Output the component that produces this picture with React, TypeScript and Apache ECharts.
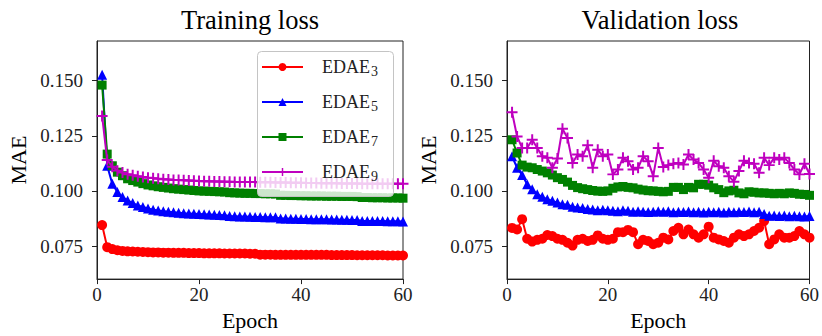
import React, { useEffect, useRef } from "react";
import * as echarts from "echarts";

const FONT = "Liberation Serif";

const epochs = [
  1, 2, 3, 4, 5, 6, 7, 8, 9, 10, 11, 12, 13, 14, 15, 16, 17, 18, 19, 20,
  21, 22, 23, 24, 25, 26, 27, 28, 29, 30, 31, 32, 33, 34, 35, 36, 37, 38, 39, 40,
  41, 42, 43, 44, 45, 46, 47, 48, 49, 50, 51, 52, 53, 54, 55, 56, 57, 58, 59, 60,
];

const seriesNames = ["EDAE3", "EDAE5", "EDAE7", "EDAE9"];
const yTicks = [0.075, 0.1, 0.125, 0.15];

// Training loss (MAE) per epoch
const trainEdae3 = [
  0.0845, 0.0745, 0.0736, 0.0731, 0.0728, 0.0726, 0.0725, 0.0724, 0.0723, 0.0722,
  0.0721, 0.0721, 0.072, 0.072, 0.0719, 0.0719, 0.0719, 0.0718, 0.0718, 0.0718,
  0.0717, 0.0717, 0.0717, 0.0717, 0.0716, 0.0716, 0.0716, 0.0716, 0.0716, 0.0715,
  0.0715, 0.0711, 0.0711, 0.0711, 0.071, 0.071, 0.071, 0.071, 0.071, 0.071,
  0.071, 0.071, 0.071, 0.071, 0.071, 0.0709, 0.0709, 0.0709, 0.0709, 0.0709,
  0.0708, 0.0708, 0.0708, 0.0708, 0.0708, 0.0708, 0.0707, 0.0707, 0.0707, 0.0707,
];
const trainEdae5 = [
  0.1527, 0.1114, 0.1032, 0.0995, 0.0972, 0.0957, 0.0945, 0.0934, 0.0927, 0.092,
  0.0915, 0.0911, 0.0908, 0.0905, 0.0903, 0.0901, 0.0899, 0.0897, 0.0896, 0.0895,
  0.0894, 0.0893, 0.0892, 0.0891, 0.089, 0.0886, 0.0885, 0.0884, 0.0884, 0.0883,
  0.0882, 0.0882, 0.0881, 0.088, 0.088, 0.0875, 0.0875, 0.0874, 0.0874, 0.0873,
  0.0873, 0.0872, 0.0872, 0.0871, 0.0871, 0.087, 0.087, 0.0869, 0.0869, 0.0868,
  0.0868, 0.0864, 0.0864, 0.0863, 0.0863, 0.0863, 0.0862, 0.0862, 0.0862, 0.0861,
];
const trainEdae7 = [
  0.148, 0.1167, 0.1114, 0.1085, 0.1069, 0.1055, 0.1047, 0.104, 0.1033, 0.1027,
  0.1023, 0.1019, 0.1016, 0.1013, 0.101, 0.1008, 0.1006, 0.1004, 0.1002, 0.1,
  0.0999, 0.0998, 0.0997, 0.0996, 0.0995, 0.0992, 0.0991, 0.099, 0.0989, 0.0989,
  0.0988, 0.0988, 0.0987, 0.0987, 0.0986, 0.098, 0.098, 0.0979, 0.0979, 0.0978,
  0.0978, 0.0977, 0.0977, 0.0977, 0.0976, 0.0976, 0.0976, 0.0975, 0.0975, 0.0975,
  0.0974, 0.097, 0.097, 0.0969, 0.0969, 0.0969, 0.0968, 0.0968, 0.0968, 0.0967,
];
const trainEdae9 = [
  0.134, 0.114, 0.111, 0.1092, 0.1083, 0.1076, 0.1071, 0.1067, 0.1063, 0.106,
  0.1058, 0.1055, 0.1053, 0.1052, 0.105, 0.1049, 0.1048, 0.1047, 0.1046, 0.1045,
  0.1044, 0.1044, 0.1043, 0.1043, 0.1042, 0.1042, 0.1041, 0.1041, 0.104, 0.104,
  0.104, 0.1039, 0.1039, 0.1039, 0.1038, 0.1038, 0.1038, 0.1037, 0.1037, 0.1037,
  0.1036, 0.1036, 0.1036, 0.1035, 0.1035, 0.1035, 0.1035, 0.1034, 0.1034, 0.1034,
  0.1034, 0.1033, 0.1033, 0.1033, 0.1033, 0.1032, 0.1032, 0.1032, 0.1032, 0.1032,
];

// Validation loss (MAE) per epoch
const valEdae3 = [
  0.0832, 0.0825, 0.0872, 0.0783, 0.077, 0.0778, 0.0783, 0.08, 0.0795, 0.0783,
  0.0778, 0.0765, 0.0752, 0.0778, 0.0783, 0.0773, 0.0778, 0.0798, 0.0783, 0.0778,
  0.0783, 0.0813, 0.0813, 0.0823, 0.0813, 0.0758, 0.0778, 0.0773, 0.0758, 0.0765,
  0.0788, 0.078, 0.0818, 0.0833, 0.0803, 0.0825, 0.0803, 0.0788, 0.0803, 0.0838,
  0.0788, 0.078, 0.0773, 0.0765, 0.0788, 0.0803, 0.0795, 0.0803, 0.0818, 0.0833,
  0.0863, 0.0758, 0.078, 0.0803, 0.0788, 0.0788, 0.0795, 0.0818, 0.0803, 0.0788,
];
const valEdae5 = [
  0.1157, 0.1105, 0.1072, 0.103, 0.1007, 0.0985, 0.0973, 0.0962, 0.0955, 0.0947,
  0.094, 0.0937, 0.0928, 0.0925, 0.0922, 0.0918, 0.0916, 0.0912, 0.0915, 0.0912,
  0.091, 0.0908, 0.0912, 0.091, 0.0905, 0.0908, 0.0906, 0.0904, 0.0906, 0.0908,
  0.0905, 0.0908, 0.0903, 0.0906, 0.0904, 0.0907, 0.0903, 0.0905, 0.0902, 0.0906,
  0.0903, 0.0905, 0.0902, 0.0906, 0.0903, 0.0905, 0.0904, 0.0907, 0.0903, 0.0905,
  0.0895, 0.0887, 0.0889, 0.0886, 0.0888, 0.0885, 0.0887, 0.0885, 0.0884, 0.0886,
];
const valEdae7 = [
  0.1232, 0.1172, 0.1117, 0.1108, 0.1105, 0.1097, 0.109, 0.1082, 0.1072, 0.106,
  0.1052, 0.104, 0.1025, 0.1015, 0.101, 0.1006, 0.1002, 0.0999, 0.0998, 0.1,
  0.1012, 0.1018, 0.102, 0.1016, 0.1014, 0.1008, 0.1004, 0.1001, 0.1, 0.0998,
  0.0996, 0.0998, 0.1016, 0.1016, 0.1006, 0.1016, 0.1014, 0.103, 0.103, 0.1026,
  0.1014, 0.1006, 0.0992, 0.1, 0.1003, 0.0991, 0.0987, 0.0996, 0.0994, 0.0991,
  0.0991, 0.0989, 0.0987, 0.0989, 0.0987, 0.0991, 0.0989, 0.0985, 0.0984, 0.098,
];
const valEdae9 = [
  0.1357, 0.1247, 0.1195, 0.1195, 0.1232, 0.1195, 0.1157, 0.115, 0.1105, 0.1147,
  0.1282, 0.124, 0.1127, 0.1165, 0.1157, 0.1207, 0.1105, 0.1187, 0.1157, 0.1165,
  0.1075, 0.1097, 0.115, 0.1135, 0.1097, 0.1105, 0.1157, 0.1135, 0.1067, 0.1195,
  0.1108, 0.1117, 0.1123, 0.1127, 0.112, 0.1165, 0.1142, 0.1127, 0.1097, 0.106,
  0.1137, 0.1112, 0.1105, 0.1067, 0.1042, 0.109, 0.1137, 0.1127, 0.1123, 0.1082,
  0.115, 0.1117, 0.115, 0.1142, 0.115, 0.1127, 0.1097, 0.1075, 0.1123, 0.1077,
];

const COLORS = ["#ff0000", "#0000ff", "#008000", "#bf00bf"];
const PLUS = "path://M4.1,0H5.9V4.1H10V5.9H5.9V10H4.1V5.9H0V4.1H4.1Z";
const SYMBOLS = ["circle", "triangle", "rect", PLUS];
const SIZES = [10, 10, 9, 11];

// vertical centre of each legend row
const LEGEND_ROWS = [70, 105, 140, 175];

function buildSeries(values: number[], idx: number, axis: number) {
  return {
    name: seriesNames[idx],
    type: "line",
    xAxisIndex: axis,
    yAxisIndex: axis,
    data: values.map((v, i) => [epochs[i], v]),
    symbol: SYMBOLS[idx],
    symbolSize: SIZES[idx],
    showSymbol: true,
    showAllSymbol: true,
    clip: true,
    lineStyle: { color: COLORS[idx], width: 2 },
    itemStyle: { color: COLORS[idx] },
    emphasis: { disabled: true },
    z: 2 + idx,
  };
}

function makeXAxis(grid: number) {
  return {
    type: "value",
    gridIndex: grid,
    min: 0,
    max: 60,
    interval: 20,
    name: "Epoch",
    nameLocation: "middle",
    nameGap: 29,
    nameTextStyle: { fontFamily: FONT, fontSize: 22, color: "#000" },
    axisLine: { show: true, lineStyle: { color: "#222", width: 1 } },
    axisTick: { show: true, inside: false, length: 5, lineStyle: { color: "#222" } },
    axisLabel: { fontFamily: FONT, fontSize: 19, color: "#222", margin: 6 },
    splitLine: { show: false },
  };
}

function makeYAxis(grid: number) {
  return {
    type: "value",
    gridIndex: grid,
    min: 0.06,
    max: 0.168,
    name: "MAE",
    nameLocation: "middle",
    nameGap: 68,
    nameRotate: 90,
    nameTextStyle: { fontFamily: FONT, fontSize: 22, color: "#000" },
    axisLine: { show: true, lineStyle: { color: "#222", width: 1 } },
    axisTick: {
      show: true,
      length: 5,
      lineStyle: { color: "#222" },
      customValues: yTicks,
    },
    axisLabel: {
      fontFamily: FONT,
      fontSize: 19,
      color: "#222",
      margin: 14,
      customValues: yTicks,
      formatter: (v: number) => v.toFixed(3),
    },
    splitLine: { show: false },
  };
}

// One legend per row, drawn over a shared frame.
function makeLegend(idx: number) {
  return {
    data: [seriesNames[idx]],
    orient: "vertical",
    left: 261,
    top: LEGEND_ROWS[idx] - 12,
    itemWidth: 41,
    itemHeight: 10,
    padding: 0,
    selectedMode: false,
    z: 12,
    formatter: (name: string) => `{m|EDAE}{s|${name.slice(4)}}`,
    textStyle: {
      fontFamily: FONT,
      fontSize: 18,
      color: "#222",
      padding: [0, 0, 0, 14],
      rich: {
        m: { fontFamily: FONT, fontSize: 18, color: "#222" },
        s: { fontFamily: FONT, fontSize: 14, color: "#222", padding: [9, 0, 0, 1] },
      },
    },
  };
}

export default function App() {
  const ref = useRef<HTMLDivElement>(null);

  useEffect(() => {
    if (!ref.current) return;
    const chart = echarts.init(ref.current, undefined, { renderer: "svg" });
    const gridBase = {
      top: 41,
      height: 240,
      show: true,
      borderColor: "#222",
      borderWidth: 1,
      backgroundColor: "transparent",
      containLabel: false,
    };
    const titleStyle = {
      fontFamily: FONT,
      fontSize: 26.5,
      fill: "#000",
      align: "center",
      verticalAlign: "middle",
    };
    chart.setOption({
      animation: false,
      backgroundColor: "#ffffff",
      graphic: {
        elements: [
          { type: "text", x: 250, y: 20, style: { ...titleStyle, text: "Training loss" } },
          { type: "text", x: 660, y: 20, style: { ...titleStyle, text: "Validation loss" } },
          // translucent legend frame, above the lines and below the legend entries
          {
            type: "rect",
            z: 11,
            zlevel: 0,
            shape: { x: 257.5, y: 51.5, width: 136, height: 145, r: 4 },
            style: { fill: "rgba(255,255,255,0.8)", stroke: "#c4c4c4", lineWidth: 1 },
          },
        ],
      },
      grid: [
        { ...gridBase, left: 97, width: 306 },
        { ...gridBase, left: 507, width: 305 },
      ],
      xAxis: [makeXAxis(0), makeXAxis(1)],
      yAxis: [makeYAxis(0), makeYAxis(1)],
      legend: [makeLegend(0), makeLegend(1), makeLegend(2), makeLegend(3)],
      series: [
        buildSeries(trainEdae3, 0, 0),
        buildSeries(trainEdae5, 1, 0),
        buildSeries(trainEdae7, 2, 0),
        buildSeries(trainEdae9, 3, 0),
        buildSeries(valEdae3, 0, 1),
        buildSeries(valEdae5, 1, 1),
        buildSeries(valEdae7, 2, 1),
        buildSeries(valEdae9, 3, 1),
      ],
    });
    return () => chart.dispose();
  }, []);

  return (
    <div
      ref={ref}
      style={{ position: "fixed", left: 0, top: 0, width: 822, height: 336 }}
    />
  );
}
